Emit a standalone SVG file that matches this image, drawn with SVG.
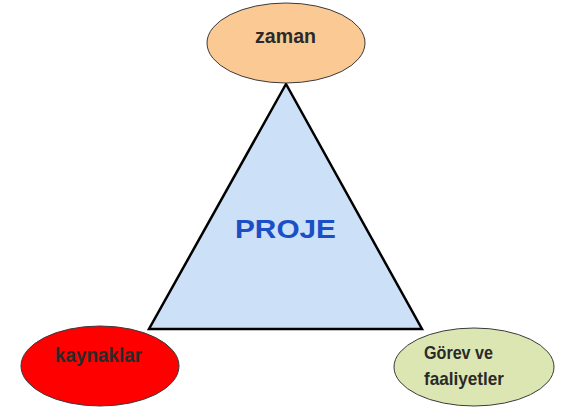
<svg xmlns="http://www.w3.org/2000/svg" width="564" height="408" viewBox="0 0 564 408">
<style>
.e{stroke:#3a3a3a;stroke-width:1}
.t{font-family:"Liberation Sans",Arial,sans-serif;font-weight:bold;fill:#2a2a2a}
</style>
<rect width="564" height="408" fill="#fff"/>
<g id="connectors">
<polygon points="286,84 149,329 422,329" fill="#CCE0F8" stroke="#000" stroke-width="2.5" stroke-linejoin="miter"/>
</g>
<g id="proje">
<text x="235" y="238" font-family="Liberation Sans,Arial,sans-serif" font-weight="bold" font-size="26" fill="#1C4FC6" textLength="101" lengthAdjust="spacingAndGlyphs">PROJE</text>
</g>
<g id="zaman">
<ellipse class="e" cx="286" cy="43" rx="79" ry="40" fill="#FBC994"/>
<text class="t" x="255" y="43" font-size="20" textLength="61" lengthAdjust="spacingAndGlyphs">zaman</text>
</g>
<g id="kaynaklar">
<ellipse class="e" cx="100" cy="366" rx="79" ry="40" fill="#FF0000"/>
<text class="t" x="55" y="362" font-size="21" textLength="87" lengthAdjust="spacingAndGlyphs">kaynaklar</text>
</g>
<g id="gorev">
<ellipse class="e" cx="474" cy="367" rx="80" ry="39" fill="#DCE6B2"/>
<text class="t" x="424" y="359" font-size="19" textLength="69" lengthAdjust="spacingAndGlyphs">Görev ve</text>
<text class="t" x="424" y="385" font-size="19" textLength="80" lengthAdjust="spacingAndGlyphs">faaliyetler</text>
</g>
</svg>
